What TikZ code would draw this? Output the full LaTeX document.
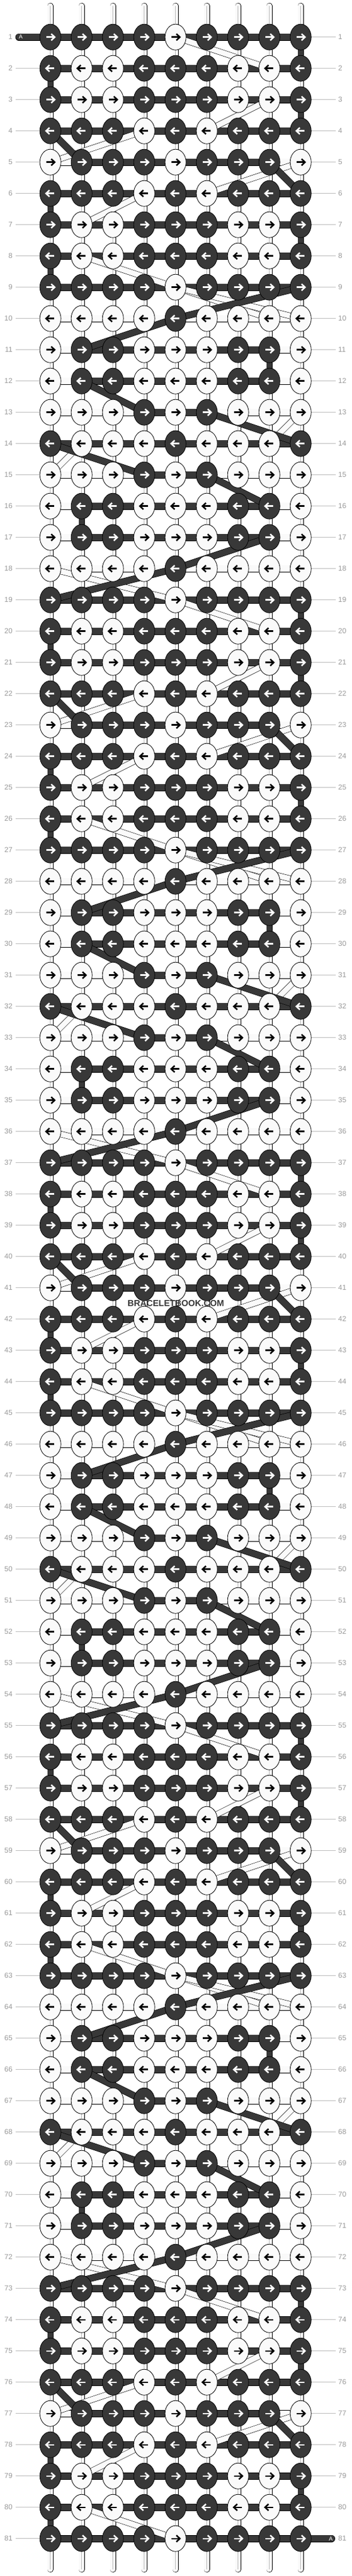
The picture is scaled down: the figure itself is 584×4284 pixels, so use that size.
\documentclass[tikz,border=0pt]{standalone}
\usepackage{fontspec}
\setmainfont{Liberation Sans}
\usetikzlibrary{shapes.geometric}
\pgfdeclarelayer{strings}
\pgfdeclarelayer{diags}
\pgfsetlayers{strings,diags,main}
\definecolor{dk}{HTML}{383838}
\definecolor{lt}{HTML}{FAFAFA}
\definecolor{lbl}{HTML}{9A9A9A}
\definecolor{lblline}{HTML}{BDBDBD}
\makeatletter
\def\setrow#1#2#3#4#5{%
 \@namedef{kn#1}{#2}\@namedef{hs#1}{#3}\@namedef{vs#1}{#4}\@namedef{dg#1}{#5}}
\makeatother
\setrow{1}{D,D,D,D,W,D,D,D,D}{D,D,D,D,D,D,D,D}{W,W,W,W,W,W,W,W,D}{W/5/8}
\setrow{2}{D,W,W,D,D,D,W,W,D}{D,D,D,D,D,D,D,D}{D,W,W,W,W,W,W,W,W}{N/1/1}
\setrow{3}{D,W,W,D,D,D,W,W,D}{D,D,D,D,D,D,D,D}{W,W,W,W,W,W,W,W,D}{W/8/6}
\setrow{4}{D,D,D,W,D,W,D,D,D}{D,D,D,D,D,D,D,D}{W,W,W,W,W,W,W,W,W}{W/4/1,D/1/2}
\setrow{5}{W,D,D,D,W,D,D,D,W}{W,D,D,D,D,D,D,W}{W,W,W,W,W,W,W,W,W}{W/9/6,D/8/9}
\setrow{6}{D,D,D,W,D,W,D,D,D}{D,D,D,D,D,D,D,D}{D,W,W,W,W,W,W,W,W}{W/4/2}
\setrow{7}{D,W,W,D,D,D,W,W,D}{D,D,D,D,D,D,D,D}{W,W,W,W,W,W,W,W,D}{N/1/1}
\setrow{8}{D,W,W,D,D,D,W,W,D}{D,D,D,D,D,D,D,D}{D,W,W,W,W,W,W,W,W}{W/2/5}
\setrow{9}{D,D,D,D,W,D,D,D,D}{D,D,D,D,D,D,D,D}{W,W,W,W,W,W,W,W,W}{W/5/8,W/5/9,D/9/5}
\setrow{10}{W,W,W,W,D,W,W,W,W}{W,W,W,W,W,W,W,W}{W,W,W,W,W,W,W,W,W}{D/5/2}
\setrow{11}{W,D,D,W,W,W,D,D,W}{W,D,D,D,D,D,D,W}{W,W,W,W,W,W,W,D,W}{N/1/1}
\setrow{12}{W,D,D,W,W,W,D,D,W}{W,D,D,D,D,D,D,W}{W,W,W,W,W,W,W,W,W}{D/2/4}
\setrow{13}{W,W,W,D,W,D,W,W,W}{W,W,W,D,D,W,W,W}{W,W,W,W,W,W,W,W,W}{W/9/8,D/6/9}
\setrow{14}{D,W,W,W,D,W,W,W,D}{D,D,D,D,D,D,D,D}{W,W,W,W,W,W,W,W,W}{W/2/1,D/1/4}
\setrow{15}{W,W,W,D,W,D,W,W,W}{W,W,W,D,D,W,W,W}{W,W,W,W,W,W,W,W,W}{D/6/8}
\setrow{16}{W,D,D,W,W,W,D,D,W}{W,D,D,D,D,D,D,W}{W,D,W,W,W,W,W,W,W}{N/1/1}
\setrow{17}{W,D,D,W,W,W,D,D,W}{W,D,D,D,D,D,D,W}{W,W,W,W,W,W,W,W,W}{D/8/5}
\setrow{18}{W,W,W,W,D,W,W,W,W}{W,W,W,W,W,W,W,W}{W,W,W,W,W,W,W,W,W}{W/1/5,D/5/1}
\newcommand\rowloop[1]{%
 \foreach \pp in {0,...,4}{%
  \foreach \kk in {1,...,18}{%
   \pgfmathtruncatemacro\rr{18*\pp+\kk}%
   \pgfmathtruncatemacro\rn{\rr+1}%
   \pgfmathsetmacro\yy{61.7+52*(\rr-1)}%
   \ifnum\rr<82\relax #1\fi
  }}}
\tikzset{
 knotbase/.style={ellipse, minimum width=35pt, minimum height=43pt, inner sep=0pt, draw=black, line width=0.8pt},
 arrowR/.style={path picture={
   \begin{scope}[shift={(path picture bounding box.center)}]
    \draw[#1, line width=2.5pt] (-6.7,0) -- (6.2,0);
    \draw[#1, line width=2.5pt, line join=miter, miter limit=10] (1.4,-5.4) -- (7.2,0) -- (1.4,5.4);
   \end{scope}}},
 arrowL/.style={path picture={
   \begin{scope}[shift={(path picture bounding box.center)}]
    \draw[#1, line width=2.5pt] (6.7,0) -- (-6.2,0);
    \draw[#1, line width=2.5pt, line join=miter, miter limit=10] (-1.4,-5.4) -- (-7.2,0) -- (-1.4,5.4);
   \end{scope}}},
 knDR/.style={knotbase, fill=dk, arrowR=white},
 knDL/.style={knotbase, fill=dk, arrowL=white},
 knWR/.style={knotbase, fill=lt, arrowR=black},
 knWL/.style={knotbase, fill=lt, arrowL=black},
 segD/.style={line width=0.7pt, draw=black, double=dk, double distance=10.5pt},
 segW/.style={line width=0.7pt, draw=black, double=lt, double distance=10.5pt},
 vsegD/.style={line width=0.7pt, draw=black, double=dk, double distance=8.8pt},
 vsegW/.style={line width=0.7pt, draw=black, double=lt, double distance=8.8pt},
 vcenter/.style={draw=gray!55, line width=0.5pt},
 diagD/.style={line width=0.7pt, draw=black, double=dk, double distance=10pt},
 diagW/.style={line width=0.6pt, draw=black, double=lt, double distance=9pt},
 lbltext/.style={font=\fontsize{12}{12}\selectfont, text=lbl, inner sep=0pt},
 lblrule/.style={draw=lblline, line width=0.8pt},
 amark/.style={font=\fontsize{9.5}{9.5}\selectfont, text=white, inner sep=0pt},
}
\begin{document}
\begin{tikzpicture}[x=1pt,y=-1pt]
\useasboundingbox (0,0) rectangle (584,4284);
\begin{pgfonlayer}{strings}
\fill[white] (0,0) rectangle (584,4284);
\end{pgfonlayer}
% knots and labels
\rowloop{%
 \ifodd\rr\relax\def\dd{R}\else\def\dd{L}\fi
 \expandafter\let\expandafter\klist\csname kn\kk\endcsname
 \foreach \cc [count=\j] in \klist {\node[kn\cc\dd] (k\rr-\j) at ({83.7+52*(\j-1)},\yy) {};}
 \node[lbltext,anchor=east] (L\rr) at (21,\yy) {\rr};
 \node[lbltext,anchor=west] (R\rr) at (562,\yy) {\rr};
}
\node[amark] (Aa) at (34.5,61.7) {A};
\node[amark] (Ab) at (549.8,4221.7) {A};
% strings
\begin{pgfonlayer}{strings}
\rowloop{%
 \expandafter\let\expandafter\hlist\csname hs\kk\endcsname
 \foreach \cc [count=\j] in \hlist {\pgfmathtruncatemacro\jn{\j+1}\draw[seg\cc] (k\rr-\j.center) -- (k\rr-\jn.center);}
 \ifnum\rr<81\relax
  \expandafter\let\expandafter\vlist\csname vs\kk\endcsname
  \foreach \cc [count=\j] in \vlist {\draw[vseg\cc] (k\rr-\j.center) -- (k\rn-\j.center);\if\cc W\draw[vcenter] (k\rr-\j.center) -- (k\rn-\j.center);\fi}
 \fi
 \ifnum\rr>1\relax\draw[lblrule] ([xshift=5pt]L\rr.east) -- (k\rr-1.center);\fi
 \ifnum\rr<81\relax\draw[lblrule] (k\rr-9.center) -- ([xshift=-4pt]R\rr.west);\fi
}
\foreach \j in {1,...,9}{
 \coordinate (t\j) at ({83.7+52*(\j-1)},9.8);
 \coordinate (b\j) at ({83.7+52*(\j-1)},4273);
 \draw[line width=10.2pt, black, line cap=round] (t\j) -- (k1-\j.center);
 \draw[line width=8.8pt, lt, line cap=round] (t\j) -- (k1-\j.center);
 \draw[vcenter] (t\j) -- (k1-\j.center);
 \draw[line width=10.2pt, black, line cap=round] (b\j) -- (k81-\j.center);
 \draw[line width=8.8pt, lt, line cap=round] (b\j) -- (k81-\j.center);
 \draw[vcenter] (b\j) -- (k81-\j.center);
}
\coordinate (As) at (31.5,61.7);
\coordinate (Ae) at (551,4221.7);
\draw[line width=12pt, black, line cap=round] (As) -- (k1-1.center);
\draw[line width=10.6pt, dk, line cap=round] (As) -- (k1-1.center);
\draw[line width=12pt, black, line cap=round] (k81-9.center) -- (Ae);
\draw[line width=10.6pt, dk, line cap=round] (k81-9.center) -- (Ae);
\end{pgfonlayer}
% diagonals
\begin{pgfonlayer}{diags}
\rowloop{%
 \ifnum\rr<81\relax
  \expandafter\let\expandafter\dlist\csname dg\kk\endcsname
  \foreach \tp/\ca/\cb in \dlist {\if\tp N\else\draw[diag\tp] (k\rr-\ca.center) -- (k\rn-\cb.center);\fi}
 \fi
}
\end{pgfonlayer}
\node[font=\bfseries\fontsize{14.5}{14.5}\selectfont, text=dk, inner sep=0pt] (wm) at (292.3,2167.5) {BRACELETBOOK.COM};
\end{tikzpicture}
\end{document}
